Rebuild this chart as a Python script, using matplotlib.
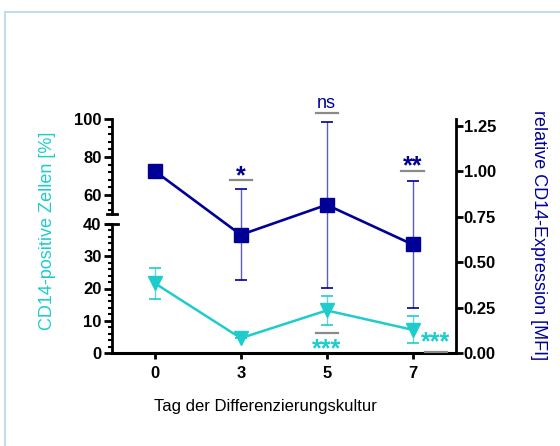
import matplotlib
matplotlib.use('Agg')
import matplotlib.pyplot as plt
import numpy as np
from matplotlib.lines import Line2D
from matplotlib.ticker import MultipleLocator, FixedLocator, FormatStrFormatter

plt.rcParams['font.family'] = ['Liberation Sans', 'DejaVu Sans']

# Daten
days = ['0', '3', '5', '7']
cd14_pct = [21.6, 4.6, 13.2, 7.2]          # CD14-positive Zellen [%]
cd14_pct_err = [4.9, 0.0, 4.4, 4.2]
cd14_mfi = [1.00, 0.65, 0.815, 0.597]      # relative CD14-Expression [MFI]
cd14_mfi_err = [0.0, 0.25, 0.455, 0.35]
sig_mfi = ['', '*', 'ns', '**']
sig_pct = ['', '', '***', '***']

NAVY = '#000096'
CYAN = '#1fcccc'
GREY = '#8a8a8a'

W, H = 560, 446
fig = plt.figure(figsize=(W / 100, H / 100), dpi=100)

# Rahmen (hellblau)
fig.add_artist(Line2D([5 / W, 5 / W], [0, 1 - 12 / H], color='#bcd8ef', lw=1.3))
fig.add_artist(Line2D([5 / W, 1], [1 - 12 / H, 1 - 12 / H], color='#bcd8ef', lw=1.3))

left, width = 112 / W, (455.5 - 112) / W
ax_low = fig.add_axes([left, (H - 353) / H, width, (353 - 224) / H])
ax_up = fig.add_axes([left, (H - 214) / H, width, (214 - 119) / H])
ax_r = fig.add_axes([left, (H - 353) / H, width, (353 - 119) / H])
ax_r.patch.set_visible(False)

x = np.arange(len(days))
for ax in (ax_low, ax_up, ax_r):
    ax.set_xlim(-0.5, len(days) - 0.5)

# unterer Abschnitt linke Achse
ax_low.set_ylim(0, 40)
ax_low.yaxis.set_major_locator(MultipleLocator(10))
ax_low.yaxis.set_minor_locator(MultipleLocator(2))
for s in ('top', 'right'):
    ax_low.spines[s].set_visible(False)
ax_low.spines['left'].set_linewidth(2.0)
ax_low.spines['bottom'].set_linewidth(2.2)
ax_low.set_xticks(x)
ax_low.set_xticklabels(days)
ax_low.tick_params(axis='x', length=4, width=2, pad=5)
ax_low.tick_params(axis='y', which='major', length=6, width=2, pad=1.5)
ax_low.tick_params(axis='y', which='minor', length=3, width=1.5)

# oberer Abschnitt linke Achse
ax_up.set_ylim(50, 100)
ax_up.yaxis.set_major_locator(FixedLocator([60, 80, 100]))
ax_up.yaxis.set_minor_locator(MultipleLocator(4))
for s in ('top', 'right', 'bottom'):
    ax_up.spines[s].set_visible(False)
ax_up.spines['left'].set_linewidth(2.0)
ax_up.set_xticks([])
ax_up.tick_params(axis='y', which='major', length=6, width=2, pad=1.5)
ax_up.tick_params(axis='y', which='minor', length=3, width=1.5)
ax_up.patch.set_visible(False)

for ax in (ax_low, ax_up):
    for lab in ax.get_yticklabels() + ax.get_xticklabels():
        lab.set_fontsize(12)
        lab.set_fontweight('bold')

# Achsenbruch-Markierungen
ax_low.add_line(Line2D([-0.018, 0.018], [1, 1], transform=ax_low.transAxes,
                       color='black', lw=2, clip_on=False))
ax_up.add_line(Line2D([-0.014, 0.014], [0, 0], transform=ax_up.transAxes,
                      color='black', lw=2, clip_on=False))

# rechte Achse
ax_r.set_ylim(0, 1.287)
ax_r.yaxis.set_major_locator(MultipleLocator(0.25))
ax_r.yaxis.set_major_formatter(FormatStrFormatter('%.2f'))
ax_r.yaxis.tick_right()
for s in ('top', 'left', 'bottom'):
    ax_r.spines[s].set_visible(False)
ax_r.spines['right'].set_linewidth(2.0)
ax_r.set_xticks([])
ax_r.tick_params(axis='y', length=5, width=2, pad=1)
for lab in ax_r.get_yticklabels():
    lab.set_fontsize(12)
    lab.set_fontweight('bold')

# Datenreihen
eb_c = ax_low.errorbar(x, cd14_pct, yerr=cd14_pct_err, color=CYAN, lw=1.8, marker='v',
                       markersize=10, capsize=4.3, elinewidth=1.0, capthick=1.2,
                       clip_on=False, zorder=3)
eb_n = ax_r.errorbar(x, cd14_mfi, yerr=cd14_mfi_err, color=NAVY, lw=1.9, marker='s',
                     markersize=9.5, capsize=4.3, elinewidth=1.0, capthick=1.2,
                     clip_on=False, zorder=3)
eb_c[2][0].set_color('#5ed8d8')
eb_n[2][0].set_color('#5c5cba')

# Signifikanz
half = 0.13
mfi_bar_y = [None, 0.951, 1.319, 1.0]
mfi_txt_y = [None, 0.935, 1.349, 0.99]
for i, (lab, by, ty) in enumerate(zip(sig_mfi, mfi_bar_y, mfi_txt_y)):
    if not lab:
        continue
    ax_r.plot([i - half, i + half], [by, by], color=GREY, lw=1.6,
              clip_on=False, zorder=5)
    bold = lab != 'ns'
    ax_r.text(i, ty, lab, color=NAVY, ha='center', va='baseline',
              fontsize=18 if bold else 13,
              fontweight='bold' if bold else 'normal', clip_on=False)

pct_x = [None, None, 2.0, 3.27]
pct_bar_y = [None, None, 6.2, 0.3]
pct_txt_y = [None, None, -1.0, 1.2]
for lab, px, by, ty in zip(sig_pct, pct_x, pct_bar_y, pct_txt_y):
    if not lab:
        continue
    ax_low.plot([px - half, px + half], [by, by], color=GREY, lw=1.6,
                clip_on=False, zorder=6)
    ax_low.text(px, ty, lab, color=CYAN, ha='center', va='baseline',
                fontsize=18, fontweight='bold', clip_on=False, zorder=6)

# Beschriftungen
fig.text(265 / W, 1 - 407 / H, 'Tag der Differenzierungskultur',
         ha='center', va='center', fontsize=12)
fig.text(48 / W, 1 - 231 / H, 'CD14-positive Zellen [%]', rotation=90,
         ha='center', va='center', fontsize=13, color=CYAN)
fig.text(538 / W, 1 - 235.5 / H, 'relative CD14-Expression [MFI]', rotation=270,
         ha='center', va='center', fontsize=13, color=NAVY)

fig.savefig('out.png', dpi=100)
